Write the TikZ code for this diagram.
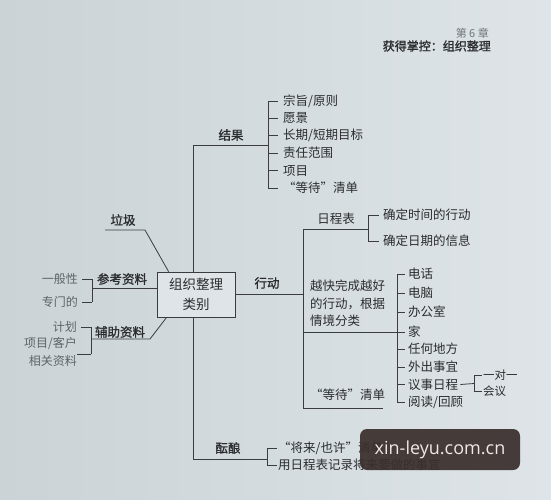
\documentclass[tikz,border=0pt]{standalone}
\usepackage{fontspec}
\newfontfamily\cjk{Noto Sans CJK SC}
\newfontfamily\cjkb[FakeBold=1.2]{Noto Sans CJK SC}
\newfontfamily\wmfont{Open Sans}
\definecolor{bgl}{HTML}{CBD3D7}
\definecolor{bgr}{HTML}{DEE4E7}
\definecolor{linec}{HTML}{3A3C3E}
\definecolor{txt}{HTML}{2A2C2E}
\definecolor{txtl}{HTML}{5E6366}
\definecolor{hdr}{HTML}{6F7478}
\definecolor{wmbg}{HTML}{3A2F2D}
\definecolor{wmtx}{HTML}{F0E8E4}
\begin{document}
\begin{tikzpicture}[x=1pt,y=-1pt,
  ln/.style={draw=linec, line width=0.8pt},
  item/.style={font=\cjk\fontsize{12.5}{14}\selectfont, text=txt, inner sep=0pt, anchor=west},
  itemr/.style={font=\cjk\fontsize{12}{14}\selectfont, text=txtl, inner sep=0pt, anchor=east},
  lab/.style={font=\cjkb\fontsize{12.5}{14}\selectfont, text=txt, inner sep=0pt},
  corebox/.style={draw=linec, line width=0.8pt, fill=bgr, minimum width=78pt, minimum height=45pt, inner sep=0pt, align=center, font=\cjk\fontsize{13.5}{20}\selectfont, text=txt},
  wmbox/.style={fill=wmbg, fill opacity=0.93, text opacity=1, rounded corners=7pt, minimum width=160pt, minimum height=41pt, inner sep=0pt, text=wmtx, font=\wmfont\fontsize{18}{20}\selectfont}
]
\useasboundingbox (0,0) rectangle (551,500);
\shade[left color=bgl, right color=bgr] (0,0) rectangle (551,500);

% header
\node[anchor=east, inner sep=0pt, text=hdr, font=\cjk\fontsize{11}{12}\selectfont] (h1) at (489,33) {第 6 章};
\node[anchor=east, inner sep=0pt, text=txt, font=\cjkb\fontsize{12}{13}\selectfont] (h2) at (491,46) {获得掌控：组织整理};

% core
\node[corebox] (core) at (196,294.5) {组织整理\\类别};

% spine
\coordinate (sTop) at (193,145);
\coordinate (sBot) at (193,459);
\draw[ln] (sTop) -- (sTop |- core.north);
\draw[ln] (sBot |- core.south) -- (sBot);

% ---------- results
\node[lab] (jg) at (231,135) {结果};
\coordinate (rb) at (268,145);
\node[item] (r1) at (283,101) {宗旨/原则};
\node[item] (r2) at (283,118.4) {愿景};
\node[item] (r3) at (283,135.8) {长期/短期目标};
\node[item] (r4) at (283,153.2) {责任范围};
\node[item] (r5) at (283,170.6) {项目};
\node[item] (r6) at (283,188) {“等待”清单};
\draw[ln] (sTop) -- (rb);
\draw[ln] (rb |- r1) -- (rb |- r6);
\foreach \n in {r1,r2,r3,r4,r5,r6} \draw[ln] (rb |- \n) -- ([xshift=-5pt]\n.west);

% ---------- action
\node[lab] (xd) at (267,283) {行动};
\coordinate (aTop) at (303,229);
\coordinate (aBot) at (303,408);
\draw[ln] (core.east) -- (aTop |- core.east);
\draw[ln] (aTop) -- (aBot);

\node[lab, font=\cjk\fontsize{12.5}{14}\selectfont] (rcb) at (336,219) {日程表};
\coordinate (sb) at (368,229);
\draw[ln] (aTop) -- (sb);
\node[item] (s1) at (383,215) {确定时间的行动};
\node[item] (s2) at (383,241) {确定日期的信息};
\draw[ln] (sb |- s1) -- (sb |- s2);
\foreach \n in {s1,s2} \draw[ln] (sb |- \n) -- ([xshift=-4pt]\n.west);

\node[item, align=left, font=\cjk\fontsize{12.5}{17.5}\selectfont, anchor=north west] (ctx) at (310,280) {越快完成越好\\的行动，根据\\情境分类};
\coordinate (cb) at (397,333);
\node[item] (c1) at (408,274) {电话};
\node[item] (c2) at (408,293) {电脑};
\node[item] (c3) at (408,312) {办公室};
\node[item] (c4) at (408,332) {家};
\node[item] (c5) at (408,349) {任何地方};
\node[item] (c6) at (408,367) {外出事宜};
\node[item] (c7) at (408,384.5) {议事日程};
\node[item] (c8) at (408,402) {阅读/回顾};
\draw[ln] (aTop |- c4) -- ([xshift=-3pt]c4.west);
\draw[ln] (cb |- c1) -- (cb |- c8);
\foreach \n in {c1,c2,c3,c5,c6,c7,c8} \draw[ln] (cb |- \n) -- ([xshift=-3pt]\n.west);

\coordinate (yb) at (474,383.5);
\node[item, font=\cjk\fontsize{11.5}{13}\selectfont] (y1) at (483,375) {一对一};
\node[item, font=\cjk\fontsize{11.5}{13}\selectfont] (y2) at (483,391) {会议};
\draw[ln] ([xshift=2pt]c7.east) -- (yb);
\draw[ln] (yb |- y1) -- (yb |- y2);
\foreach \n in {y1,y2} \draw[ln] (yb |- \n) -- ([xshift=-1pt]\n.west);

\node[item] (dd) at (310,395) {“等待”清单};
\coordinate (ddEnd) at (383,408);
\draw[ln] (aBot) -- (ddEnd);

% ---------- incubate
\node[lab] (yn) at (228,448) {酝酿};
\coordinate (ib) at (267,459);
\draw[ln] (sBot) -- (ib);
\node[item] (i1) at (278,448) {“将来/也许”清单};
\node[item] (i2) at (278,465) {用日程表记录将来要做的事宜};
\draw[ln] (ib |- i1) -- (ib |- i2);
\foreach \n in {i1,i2} \draw[ln] (ib |- \n) -- ([xshift=-1pt]\n.west);

% ---------- left: trash
\node[lab] (lj) at (123,220) {垃圾};
\coordinate (lj0) at (105,230);
\coordinate (lj1) at (145,230);
\draw[ln] (lj0) -- (lj1) -- ([xshift=12pt]core.north west);

% ---------- left: reference
\node[lab] (ck) at (122,279) {参考资料};
\coordinate (kb) at (92,288);
\draw[ln] (kb) -- (core.west |- kb);
\node[itemr] (k1) at (78,279) {一般性};
\node[itemr] (k2) at (78,302) {专门的};
\draw[ln] (kb |- k1) -- (kb |- k2);
\foreach \n in {k1,k2} \draw[ln] (kb |- \n) -- ([xshift=4pt]\n.east);

% ---------- left: support
\node[lab] (fz) at (120,332) {辅助资料};
\coordinate (fb) at (91,339);
\coordinate (fb1) at (150,339);
\draw[ln] (fb) -- (fb1) -- ([xshift=10pt]core.south west);
\node[itemr] (f1) at (77,327) {计划};
\node[itemr, align=right, font=\cjk\fontsize{12}{18}\selectfont, anchor=north east] (f2) at (77,337) {项目/客户\\相关资料};
\coordinate (fbB) at (91,354);
\draw[ln] (fb |- f1) -- (fbB);
\draw[ln] (fb |- f1) -- ([xshift=4pt]f1.east);
\draw[ln] (fbB) -- (f2.east |- fbB);

% ---------- watermark
\node[wmbox] (wm) at (440,449.5) {xin-leyu.com.cn};
\end{tikzpicture}
\end{document}
